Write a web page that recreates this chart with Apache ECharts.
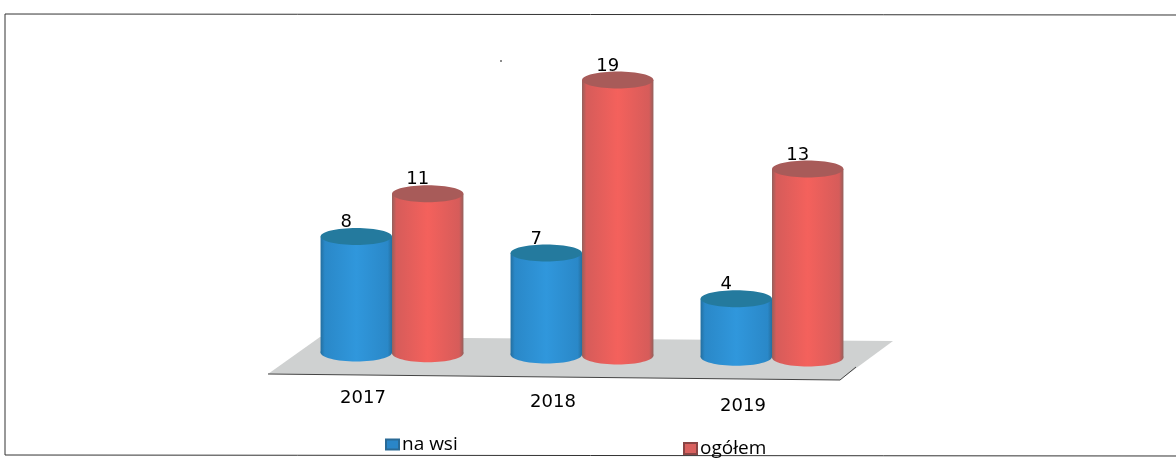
<!DOCTYPE html>
<html><head><meta charset="utf-8">
<style>html,body{margin:0;padding:0;background:#fff}#c{width:1176px;height:462px}</style>
<script src="https://cdn.jsdelivr.net/npm/echarts@6/dist/echarts.min.js"></script>
</head><body><div id="c"></div>
<script>
const categories = ['2017', '2018', '2019'];
const naWsi = [8, 7, 4];
const ogolem = [11, 19, 13];

const chart = echarts.init(document.getElementById('c'));
const TILT = 0.011, TILT_X0 = 582, WIDTH = 0.376, RY = 8.5;
const grad = (e, m) => new echarts.graphic.LinearGradient(0, 0, 1, 0, [
  {offset: 0, color: e}, {offset: 0.06, color: m[0]}, {offset: 0.5, color: m[1]}, {offset: 0.94, color: m[0]}, {offset: 1, color: e}
]);
function cylinder(side, edge, mid, topColor) {
  return function (params, api) {
    const i = api.value(0), v = api.value(1);
    const top = api.coord([i, v]), base = api.coord([i, 0]);
    const w = api.size([1, 0])[0] * WIDTH;
    const cx = top[0] + side * w / 2;
    const dy = (cx - TILT_X0) * TILT;
    const yT = top[1] + dy, yB = base[1] + dy;
    const fill = grad(edge, mid);
    return {type: 'group', children: [
      {type: 'ellipse', shape: {cx, cy: yB, rx: w / 2, ry: RY + 0.5}, style: {fill}},
      {type: 'rect', shape: {x: cx - w / 2, y: yT, width: w, height: yB - yT}, style: {fill}},
      {type: 'ellipse', shape: {cx, cy: yT, rx: w / 2, ry: RY}, style: {fill: topColor}},
      {type: 'text', z2: 5, style: {x: cx - 10, y: yT - 14, text: String(v), align: 'center', verticalAlign: 'middle',
        font: '18px "DejaVu Sans"', fill: '#000'}}
    ]};
  };
}
const tickStyle = {fontFamily: 'DejaVu Sans', fontSize: 18, color: '#000'};
const legendText = {fontFamily: 'Open Sans', fontSize: 19, color: '#000', padding: [0, 0, 0, -2]};
chart.setOption({
  animation: false,
  backgroundColor: '#fff',
  grid: {left: 297, right: 309, top: 65, bottom: 107},
  xAxis: {type: 'category', data: categories, axisLine: {show: false}, axisTick: {show: false},
    axisLabel: {interval: 0, margin: 34, formatter: (val, idx) => '{y' + idx + '|' + val + '}',
      rich: {
        y0: {...tickStyle, padding: [0, 58, 0, 0]},
        y1: {...tickStyle, padding: [4, 58, 0, 0]},
        y2: {...tickStyle, padding: [8, 58, 0, 0]}
      }}},
  yAxis: {type: 'value', min: 0, max: 20, show: false},
  legend: [
    {data: ['na wsi'], icon: 'rect', left: 380, top: 430, itemWidth: 13, itemHeight: 10, itemGap: 3, textStyle: legendText},
    {data: ['ogółem'], icon: 'rect', left: 678, top: 434, itemWidth: 13, itemHeight: 11, itemGap: 3, textStyle: legendText}
  ],
  graphic: [
    {type: 'polygon', silent: true, z: -1, shape: {points: [[268, 374], [840, 380], [893, 341], [320, 337]]},
      style: {fill: '#cfd1d1'}},
    {type: 'polyline', silent: true, z: -1, shape: {points: [[268, 374], [840, 380], [856, 367]]},
      style: {fill: 'none', stroke: '#444', lineWidth: 1}},
    {type: 'polyline', silent: true, z: -1, shape: {points: [[1176, 15], [5, 14], [5, 455], [1176, 456]]},
      style: {fill: 'none', stroke: '#333', lineWidth: 1}},
    {type: 'circle', silent: true, shape: {cx: 501, cy: 61, r: 1}, style: {fill: '#666'}}
  ],
  series: [
    {name: 'na wsi', type: 'custom', itemStyle: {color: '#2a86c8', borderColor: '#2a6a96', borderWidth: 1},
      renderItem: cylinder(-1, '#246f9f', ['#2a88c8', '#3097dc'], '#247a9e'),
      data: naWsi.map((v, i) => [i, v]), encode: {x: 0, y: 1}},
    {name: 'ogółem', type: 'custom', itemStyle: {color: '#d9615f', borderColor: '#8a4545', borderWidth: 1},
      renderItem: cylinder(1, '#94605c', ['#d65c5a', '#f4615c'], '#a85b59'),
      data: ogolem.map((v, i) => [i, v]), encode: {x: 0, y: 1}}
  ]
});
</script></body></html>
